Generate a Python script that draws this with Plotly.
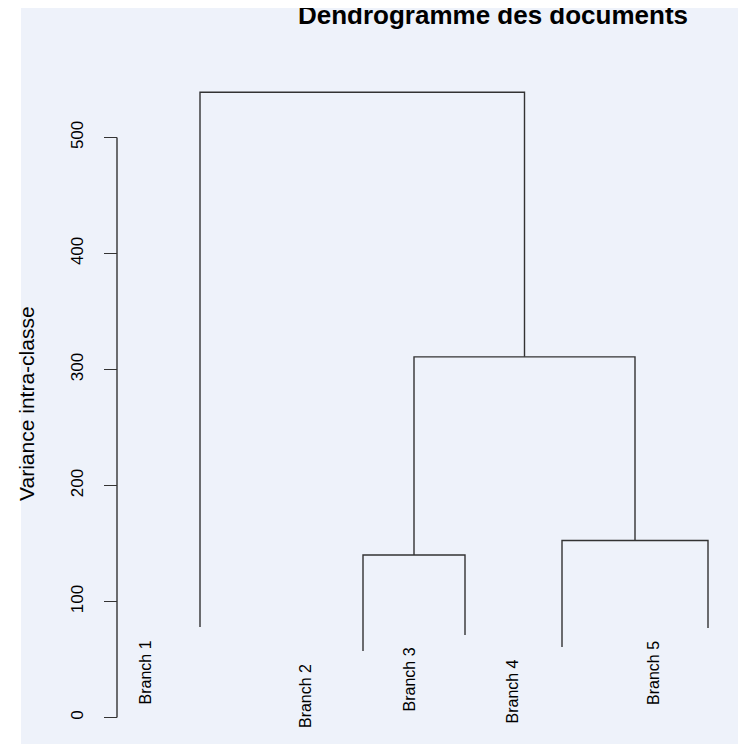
import plotly.graph_objects as go

# ---------------- data ----------------
leaf_names = ["L1", "L2", "L3", "L4", "L5"]
leaf_x = [0.83, 2.46, 3.48, 4.45, 5.91]
leaf_height = [78.0, 57.3, 71.1, 60.8, 77.2]

merge_names = ["A", "B", "C", "D"]
merge_left = ["L2", "L4", "A", "L1"]
merge_right = ["L3", "L5", "B", "C"]
merge_height = [140.1, 152.6, 310.9, 539.0]

branch_labels = ["Branch 1", "Branch 2", "Branch 3", "Branch 4", "Branch 5"]
branch_label_x = [0.28, 1.88, 2.92, 3.96, 5.37]
branch_label_y = [38.8, 18.5, 32.8, 22.4, 38.4]

y_ticks = [0, 100, 200, 300, 400, 500]

title_text = "Dendrogramme des documents"
y_title = "Variance intra-classe"

# ---------------- styles ----------------
BG = "#EEF2FA"
LINE = "#333333"
FONT = "Liberation Sans, Arial, Helvetica, sans-serif"

W, H = 738, 744
ML, MT = 21, 8

X_RANGE = [-0.96, 6.21]
Y_RANGE = [-22.84, 611.6]
AXIS_X = 0.0  # position of the y axis line, in x data units

fig = go.Figure()

# dendrogram links
pos = {n: (x, h) for n, x, h in zip(leaf_names, leaf_x, leaf_height)}
for name, l, r, h in zip(merge_names, merge_left, merge_right, merge_height):
    xl, hl = pos[l]
    xr, hr = pos[r]
    fig.add_trace(go.Scatter(
        x=[xl, xl, xr, xr], y=[hl, h, h, hr], mode="lines",
        line=dict(color=LINE, width=1.4), hoverinfo="skip", showlegend=False,
    ))
    pos[name] = ((xl + xr) / 2, h)

# y axis line spanning the tick range
fig.add_trace(go.Scatter(
    x=[AXIS_X, AXIS_X], y=[y_ticks[0], y_ticks[-1]], mode="lines",
    line=dict(color=LINE, width=1.4), hoverinfo="skip", showlegend=False,
))

# title as text trace, clipped by the plot area like the reference
fig.add_trace(go.Scatter(
    x=[3.76], y=[603.0], mode="text", text=["<b>" + title_text + "</b>"],
    textposition="middle center", cliponaxis=True,
    textfont=dict(family=FONT, size=26, color="black"),
    hoverinfo="skip", showlegend=False,
))

for txt, bx, by in zip(branch_labels, branch_label_x, branch_label_y):
    fig.add_annotation(
        x=bx, y=by, xref="x", yref="y", text=txt, showarrow=False,
        textangle=-90, xanchor="center", yanchor="middle",
        font=dict(family=FONT, size=16, color="black"),
    )

fig.add_annotation(
    x=-0.90, y=270.3, xref="x", yref="y", text=y_title, showarrow=False,
    textangle=-90, xanchor="center", yanchor="middle",
    font=dict(family=FONT, size=21, color="black"),
)

fig.update_layout(
    width=W, height=H,
    margin=dict(l=ML, r=0, t=MT, b=0, pad=0),
    paper_bgcolor="white", plot_bgcolor=BG,
    xaxis=dict(range=X_RANGE, visible=False, fixedrange=True),
    yaxis=dict(
        range=Y_RANGE, fixedrange=True,
        anchor="free", position=(AXIS_X - X_RANGE[0]) / (X_RANGE[1] - X_RANGE[0]),
        showline=False, showgrid=False, zeroline=False,
        ticks="outside", ticklen=13, tickwidth=1.4, tickcolor=LINE,
        tickvals=y_ticks, ticktext=[str(t) for t in y_ticks], tickangle=-90,
        tickfont=dict(family=FONT, size=17, color="black"),
        ticklabelstandoff=14,
    ),
    showlegend=False,
)

fig.write_html(
    "out.html",
    config={"displayModeBar": False},
    post_script="document.body.style.margin='0px';",
)
